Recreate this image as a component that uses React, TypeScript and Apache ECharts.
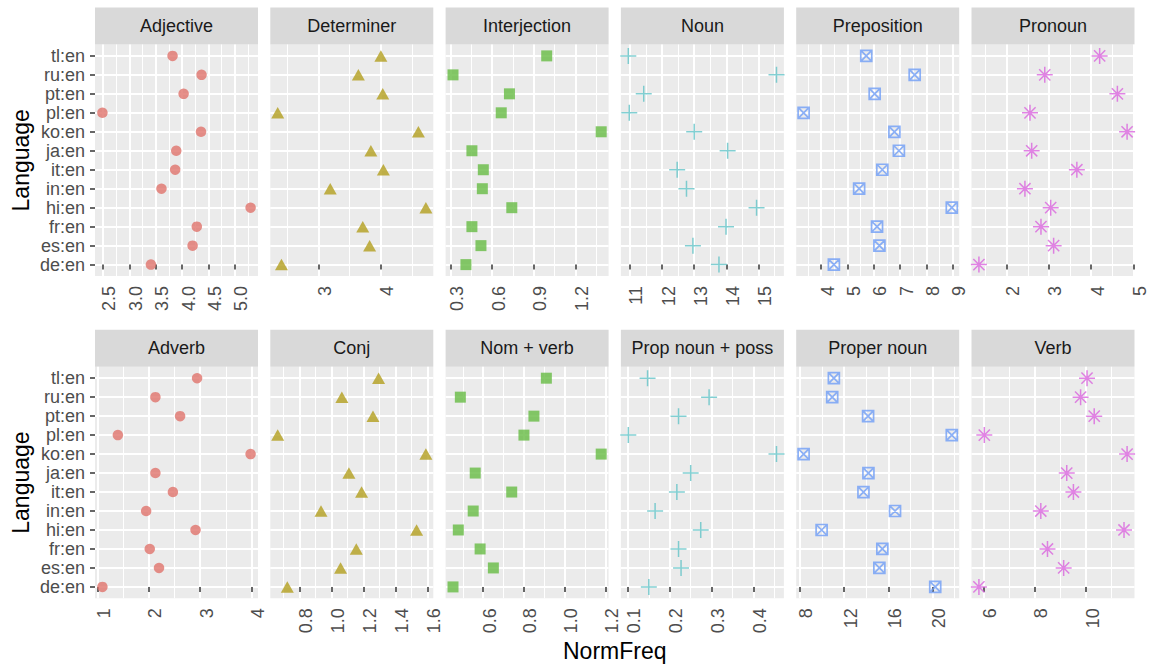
import React, { useEffect, useRef } from 'react';
import * as echarts from 'echarts';

// Categories (bottom to top)
const languages = ['de:en', 'es:en', 'fr:en', 'hi:en', 'in:en', 'it:en', 'ja:en', 'ko:en', 'pl:en', 'pt:en', 'ru:en', 'tl:en'];

// Values per facet, ordered as `languages`
const adjective = [3.41, 4.20, 4.28, 5.30, 3.61, 3.87, 3.89, 4.36, 2.49, 4.03, 4.37, 3.82];
const determiner = [2.41, 3.82, 3.71, 4.72, 3.19, 4.04, 3.84, 4.60, 2.35, 4.03, 3.64, 4.00];
const interjection = [0.412, 0.520, 0.455, 0.742, 0.530, 0.537, 0.455, 1.385, 0.666, 0.725, 0.319, 0.993];
const noun = [13.77, 12.96, 13.99, 14.94, 12.76, 12.47, 14.04, 13.00, 10.98, 11.43, 15.56, 10.95];
const preposition = [4.48, 6.21, 6.12, 8.96, 5.44, 6.32, 6.95, 6.78, 3.33, 6.03, 7.55, 5.71];
const pronoun = [1.34, 3.11, 2.81, 3.04, 2.43, 3.66, 2.59, 4.85, 2.55, 4.62, 2.90, 4.20];
const adverb = [1.10, 2.20, 2.02, 2.91, 1.95, 2.47, 2.13, 3.98, 1.40, 2.61, 2.13, 2.94];
const conj = [0.725, 1.057, 1.155, 1.531, 0.935, 1.188, 1.109, 1.589, 0.665, 1.259, 1.065, 1.294];
const nomVerb = [0.452, 0.650, 0.585, 0.478, 0.551, 0.740, 0.561, 1.179, 0.800, 0.849, 0.488, 0.910];
const propNounPoss = [0.150, 0.227, 0.221, 0.274, 0.165, 0.217, 0.250, 0.455, 0.101, 0.221, 0.294, 0.147];
const properNoun = [20.25, 15.19, 15.46, 9.96, 16.61, 13.75, 14.20, 8.33, 21.75, 14.17, 10.92, 11.07];
const verb = [5.83, 9.13, 8.50, 11.48, 8.24, 9.51, 9.25, 11.60, 6.04, 10.32, 9.79, 10.04];

// Tick labels per facet
const adjectiveTicks = [2.5, 3.0, 3.5, 4.0, 4.5, 5.0];
const determinerTicks = [3, 4];
const interjectionTicks = [0.3, 0.6, 0.9, 1.2];
const nounTicks = [11, 12, 13, 14, 15];
const prepositionTicks = [4, 5, 6, 7, 8, 9];
const pronounTicks = [2, 3, 4, 5];
const adverbTicks = [1, 2, 3, 4];
const conjTicks = [0.8, 1.0, 1.2, 1.4, 1.6];
const nomVerbTicks = [0.6, 0.8, 1.0, 1.2];
const propNounPossTicks = [0.1, 0.2, 0.3, 0.4];
const properNounTicks = [8, 12, 16, 20];
const verbTicks = [6, 8, 10];

const facetNames = ['Adjective', 'Determiner', 'Interjection', 'Noun', 'Preposition', 'Pronoun',
  'Adverb', 'Conj', 'Nom + verb', 'Prop noun + poss', 'Proper noun', 'Verb'];
const facetValues = [adjective, determiner, interjection, noun, preposition, pronoun,
  adverb, conj, nomVerb, propNounPoss, properNoun, verb];
const facetTicks = [adjectiveTicks, determinerTicks, interjectionTicks, nounTicks, prepositionTicks, pronounTicks,
  adverbTicks, conjTicks, nomVerbTicks, propNounPossTicks, properNounTicks, verbTicks];
const facetDecimals = [1, 0, 1, 0, 0, 0, 0, 1, 1, 1, 0, 0];
const facetGroup = [0, 1, 2, 3, 4, 5, 0, 1, 2, 3, 4, 5];

const groupColors = ['#E0736C', '#B39F1E', '#66BB44', '#63C3C7', '#6F9EF6', '#DA65DD'];

const FONT = '"Liberation Sans", Arial, Helvetica, sans-serif';
const COL_LEFT = 95;
const COL_STEP = 175.3;
const PANEL_W = 163;
const STRIP_TOP = [7.5, 329.8];
const STRIP_H = 37;
const PANEL_H = 231.5;

function symbolFor(g: number, color: string) {
  switch (g) {
    case 0:
      return { symbol: 'circle', symbolSize: 10.5, itemStyle: { color } };
    case 1:
      return { symbol: 'triangle', symbolSize: [13, 11.5], itemStyle: { color } };
    case 2:
      return { symbol: 'rect', symbolSize: 11, itemStyle: { color } };
    case 3:
      return {
        symbol: 'path://M0,-8L0,8M-8,0L8,0',
        symbolSize: 16,
        itemStyle: { color: 'transparent', borderColor: color, borderWidth: 1.5 },
      };
    case 4:
      return {
        symbol: 'path://M-1,-1L1,-1L1,1L-1,1ZM-1,-1L1,1M1,-1L-1,1',
        symbolSize: 11,
        itemStyle: { color: 'transparent', borderColor: color, borderWidth: 1.7 },
      };
    default:
      return {
        symbol: 'path://M0,-1L0,1M-1,0L1,0M-0.7,-0.7L0.7,0.7M0.7,-0.7L-0.7,0.7',
        symbolSize: 16,
        itemStyle: { color: 'transparent', borderColor: color, borderWidth: 1.5 },
      };
  }
}

export default function App() {
  const ref = useRef<HTMLDivElement>(null);

  useEffect(() => {
    const chart = echarts.init(ref.current!, null, { renderer: 'svg' });
    const grids: any[] = [];
    const xAxes: any[] = [];
    const yAxes: any[] = [];
    const series: any[] = [];
    const graphics: any[] = [];
    const catIdx = languages.map((_, i) => i);

    facetNames.forEach((name, p) => {
      const row = Math.floor(p / 6);
      const col = p % 6;
      const left = COL_LEFT + col * COL_STEP;
      const top = STRIP_TOP[row] + STRIP_H;
      const vals = facetValues[p];
      const lo = Math.min(...vals);
      const hi = Math.max(...vals);
      const pad = (hi - lo) * 0.05;
      const min = lo - pad;
      const max = hi + pad;
      const majors = facetTicks[p];
      const step = majors[1] - majors[0];
      const minors: number[] = [];
      for (let k = -1; k <= majors.length; k++) {
        const v = +(majors[0] + step * k + step / 2).toFixed(6);
        if (v >= min && v <= max) minors.push(v);
      }
      const dec = facetDecimals[p];

      grids.push({ left, top, width: PANEL_W, height: PANEL_H, show: true, backgroundColor: '#EBEBEB', borderWidth: 0 });

      xAxes.push({
        gridIndex: p, type: 'value', min, max,
        axisLine: { show: false },
        axisTick: { show: true, length: 5, lineStyle: { color: '#333333', width: 1.5 }, customValues: majors },
        axisLabel: {
          show: true, customValues: majors, rotate: 90, margin: 10, fontSize: 18, color: '#4D4D4D',
          fontFamily: FONT, verticalAlign: 'top', lineHeight: 13,
          formatter: (v: number) => v.toFixed(dec),
        },
        splitLine: { show: true, lineStyle: { color: '#FFFFFF', width: 2 } },
      });
      xAxes.push({
        gridIndex: p, type: 'value', min, max,
        axisLine: { show: false },
        axisTick: { show: false, customValues: minors },
        axisLabel: { show: false },
        splitLine: { show: true, lineStyle: { color: '#FFFFFF', width: 1 } },
      });
      yAxes.push({
        gridIndex: p, type: 'value', min: -0.6, max: languages.length - 0.4,
        axisLine: { show: false },
        axisTick: { show: col === 0, length: 5, lineStyle: { color: '#333333', width: 1.5 }, customValues: catIdx },
        axisLabel: {
          show: col === 0, customValues: catIdx, margin: 10, fontSize: 18, color: '#4D4D4D', fontFamily: FONT,
          formatter: (v: number) => languages[Math.round(v)],
        },
        splitLine: { show: true, lineStyle: { color: '#FFFFFF', width: 2 } },
      });

      const g = facetGroup[p];
      series.push({
        type: 'scatter',
        xAxisIndex: 2 * p,
        yAxisIndex: p,
        data: vals.map((v, i) => [v, i]),
        silent: true,
        ...symbolFor(g, groupColors[g]),
      });

      graphics.push({
        type: 'rect',
        shape: { x: left, y: STRIP_TOP[row], width: PANEL_W, height: STRIP_H },
        style: { fill: '#D9D9D9' },
      });
      graphics.push({
        type: 'text',
        x: left + PANEL_W / 2,
        y: STRIP_TOP[row] + STRIP_H / 2,
        style: { text: name, fontSize: 18, fill: '#1A1A1A', align: 'center', verticalAlign: 'middle', fontFamily: FONT },
      });
    });

    [0, 1].forEach((row) => {
      graphics.push({
        type: 'text',
        x: 21,
        y: STRIP_TOP[row] + STRIP_H + PANEL_H / 2,
        rotation: Math.PI / 2,
        style: { text: 'Language', fontSize: 23, fill: '#000000', align: 'center', verticalAlign: 'middle', fontFamily: FONT },
      });
    });
    graphics.push({
      type: 'text',
      x: COL_LEFT + (5 * COL_STEP + PANEL_W) / 2,
      y: 651,
      style: { text: 'NormFreq', fontSize: 23, fill: '#000000', align: 'center', verticalAlign: 'middle', fontFamily: FONT },
    });

    chart.setOption({
      animation: false,
      backgroundColor: '#FFFFFF',
      textStyle: { fontFamily: FONT },
      grid: grids,
      xAxis: xAxes,
      yAxis: yAxes,
      series,
      graphic: graphics,
    });
    return () => chart.dispose();
  }, []);

  return <div ref={ref} style={{ position: 'absolute', left: 0, top: 0, width: 1150, height: 668 }} />;
}
